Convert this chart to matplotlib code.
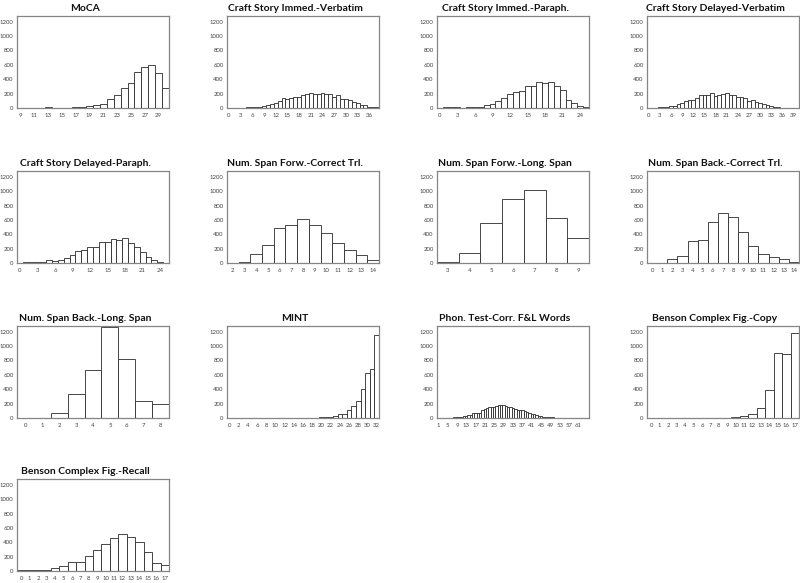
import matplotlib
matplotlib.use("Agg")
import matplotlib.pyplot as plt
import numpy as np

plt.rcParams['font.family'] = ['Lato', 'DejaVu Sans']

titles = ["MoCA", "Craft Story Immed.-Verbatim", "Craft Story Immed.-Paraph.",
          "Craft Story Delayed-Verbatim", "Craft Story Delayed-Paraph.",
          "Num. Span Forw.-Correct Trl.", "Num. Span Forw.-Long. Span",
          "Num. Span Back.-Correct Trl.", "Num. Span Back.-Long. Span", "MINT",
          "Phon. Test-Corr. F&L Words", "Benson Complex Fig.-Copy",
          "Benson Complex Fig.-Recall"]

moca_x = list(range(9, 31))
moca_y = [0, 0, 0, 3, 8, 3, 2, 5, 12, 15, 25, 45, 60, 120, 180, 278, 352, 505, 574, 602, 486, 278]

csiv_x = list(range(0, 39))
csiv_y = [0, 0, 3, 5, 5, 10, 20, 20, 20, 30, 40, 55, 70, 100, 140, 120, 140, 160, 160, 180,
          200, 210, 190, 190, 205, 190, 190, 150, 175, 130, 130, 110, 80, 65, 45, 40, 12, 10, 15]

csip_x = list(range(0, 26))
csip_y = [5, 10, 15, 12, 5, 12, 20, 20, 45, 60, 95, 140, 200, 225, 235, 305, 310, 360, 350,
          355, 305, 245, 115, 75, 25, 15]

csdv_x = list(range(0, 41))
csdv_y = [3, 3, 5, 8, 10, 15, 25, 30, 50, 75, 100, 105, 110, 140, 180, 175, 180, 205, 170,
          185, 190, 205, 185, 175, 155, 150, 140, 100, 115, 90, 65, 50, 35, 25, 10, 8, 5, 3,
          2, 1, 1]

csdp_x = list(range(0, 26))
csdp_y = [5, 12, 15, 20, 20, 35, 25, 45, 75, 105, 165, 180, 225, 225, 290, 295, 340, 325,
          350, 285, 220, 160, 85, 45, 15, 5]

nsfc_x = list(range(2, 15))
nsfc_y = [5, 20, 130, 245, 488, 528, 612, 532, 418, 278, 185, 111, 48]

nsfl_x = list(range(3, 10))
nsfl_y = [10, 138, 555, 888, 1022, 630, 343]

nsbc_x = list(range(0, 15))
nsbc_y = [0, 3, 55, 95, 305, 318, 574, 690, 634, 428, 238, 125, 85, 50, 20]

nsbl_x = list(range(0, 9))
nsbl_y = [5, 0, 67, 330, 663, 1268, 816, 237, 197]

mint_x = list(range(0, 33))
mint_y = [0] * 18 + [2, 5, 8, 12, 18, 25, 50, 58, 108, 164, 237, 400, 627, 678, 1156]

phon_x = list(range(1, 66))
phon_y = [0, 0, 1, 2, 3, 5, 5, 8, 12, 15, 18, 22, 30, 40, 45, 70, 70, 70, 72, 110, 125,
          135, 155, 150, 160, 170, 175, 180, 175, 165, 160, 150, 145, 130, 115, 115, 105,
          95, 80, 70, 60, 55, 35, 30, 25, 20, 12, 15, 10, 8, 6, 5, 4, 4, 3, 2, 2, 3, 1, 1,
          1, 0, 0, 0, 0]

bcfc_x = list(range(0, 18))
bcfc_y = [0, 0, 0, 0, 0, 0, 0, 0, 3, 5, 8, 27, 60, 140, 386, 902, 888, 1181]

bcfr_x = list(range(0, 18))
bcfr_y = [20, 15, 10, 15, 35, 65, 120, 130, 215, 290, 370, 460, 520, 480, 405, 270, 105, 80]

xs = [moca_x, csiv_x, csip_x, csdv_x, csdp_x, nsfc_x, nsfl_x, nsbc_x, nsbl_x, mint_x,
      phon_x, bcfc_x, bcfr_x]
ys = [moca_y, csiv_y, csip_y, csdv_y, csdp_y, nsfc_y, nsfl_y, nsbc_y, nsbl_y, mint_y,
      phon_y, bcfc_y, bcfr_y]
xticks = [list(range(9, 30, 2)), list(range(0, 37, 3)), list(range(0, 25, 3)),
          list(range(0, 40, 3)), list(range(0, 25, 3)), list(range(2, 15)),
          list(range(3, 10)), list(range(0, 15)), list(range(0, 9)),
          list(range(0, 33, 2)), list(range(1, 62, 4)), list(range(0, 18)),
          list(range(0, 18))]
yticks = [0, 200, 400, 600, 800, 1000, 1200]

W, H = 800, 583
fig = plt.figure(figsize=(W / 100, H / 100), dpi=100)
col_left = [17, 227, 437, 647]
row_top = [16, 171, 326, 479]
aw, ah = 152, 92

for i in range(13):
    r, c = divmod(i, 4)
    l = col_left[c]
    t = row_top[r]
    ax = fig.add_axes([l / W, (H - t - ah) / H, aw / W, ah / H])
    ax.bar(xs[i], ys[i], width=1.0, facecolor='white', edgecolor='#2a2a2a', linewidth=0.6)
    ax.set_xlim(min(xs[i]) - 0.5, max(xs[i]) + 0.5)
    ax.set_ylim(0, 1280)
    ax.set_xticks(xticks[i])
    ax.set_yticks(yticks)
    ax.tick_params(length=0, labelsize=4.3, colors='#444444')
    ax.tick_params(axis='x', pad=3.5)
    ax.tick_params(axis='y', pad=2.5)
    for s in ax.spines.values():
        s.set_color('#858585')
        s.set_linewidth(0.9)
    ax.set_title(titles[i], fontsize=7.5, fontweight='bold', pad=3.5, color='#111111',
                 x=0.5 - 8 / aw)

fig.savefig("out.png", dpi=100)
